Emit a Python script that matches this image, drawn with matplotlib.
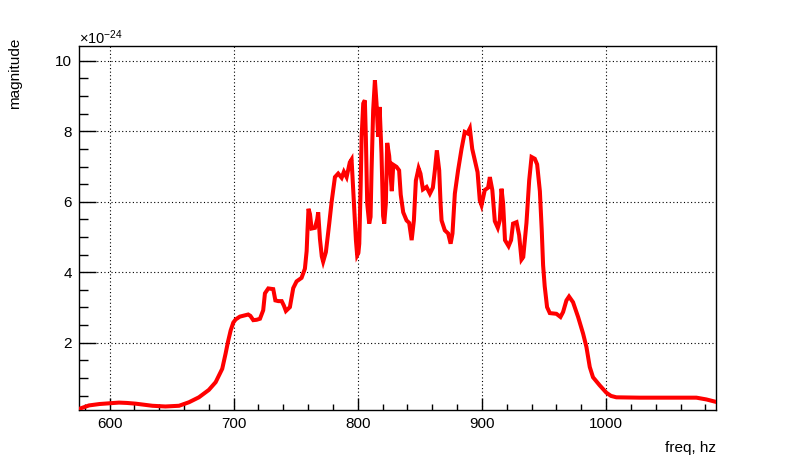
import matplotlib
matplotlib.use("Agg")
import matplotlib.pyplot as plt
from matplotlib.ticker import MultipleLocator

# --------------------------------------
# Data (magnitude in units of 1e-24)
# --------------------------------------
freq_hz = [
    575.4, 583.5, 592, 600, 607.6, 614, 621, 634.5, 645, 656,
    664, 672, 680, 685.5, 690.8, 693.5, 695.4, 697.6, 699.7, 701.6,
    705, 708.5, 711.7, 713.5, 715.8, 718.5, 721.2, 723.8, 725.2, 727.9,
    731.9, 733.6, 736, 738.7, 740.5, 742.1, 745.3, 748, 750.7, 754.7,
    757.4, 758.8, 759.5, 760.3, 761.5, 762.8, 765.5, 767.3, 768.1, 769.5,
    771, 772.1, 774.3, 777, 778.9, 781.6, 784.2, 787, 788.8, 791,
    793.6, 795, 796.9, 798.5, 799.5, 800.5, 801.2, 802.3, 803.1, 804.4,
    805.7, 806.5, 807.6, 809.2, 810.3, 811.1, 812.4, 813.8, 815.1, 816.4,
    817.6, 819.1, 820.4, 821.3, 822.6, 823.7, 825.3, 826.6, 827.4, 828.6,
    831.2, 833.3, 834.6, 836.6, 839.3, 841.4, 843.4, 845.2, 846.8, 849,
    850.5, 852.5, 855.4, 858.1, 860.5, 862.1, 863.7, 865.6, 866.7, 867.5,
    870.1, 872.8, 874.8, 876.3, 878.2, 880.8, 883.6, 886.2, 888.4, 890.3,
    892.2, 894.3, 896.5, 898.3, 899.7, 902.3, 905, 906.4, 908.4, 910.4,
    912.8, 914.4, 915.8, 917.1, 918.6, 921.5, 923.5, 925.1, 927.9, 930,
    931.9, 933.3, 935.9, 938.1, 940, 942.6, 944.5, 946.7, 948.2, 949.3,
    950.6, 952.5, 954.7, 960, 963.3, 965.4, 968.1, 970.2, 973.4, 977.5,
    981.5, 984.2, 986.9, 989.5, 994.9, 1000.3, 1004, 1008.3, 1027, 1054,
    1072.8, 1080.8, 1088.6,
]
magnitude = [
    0.12, 0.22, 0.26, 0.28, 0.30, 0.29, 0.27, 0.21, 0.19, 0.21,
    0.31, 0.45, 0.66, 0.88, 1.26, 1.69, 2.02, 2.35, 2.57, 2.66,
    2.74, 2.77, 2.80, 2.76, 2.64, 2.65, 2.68, 2.92, 3.40, 3.54,
    3.52, 3.20, 3.18, 3.18, 3.05, 2.90, 3.01, 3.55, 3.74, 3.84,
    4.10, 4.60, 5.20, 5.80, 5.65, 5.24, 5.26, 5.50, 5.70, 4.95,
    4.45, 4.30, 4.57, 5.38, 5.99, 6.70, 6.80, 6.68, 6.85, 6.70,
    7.12, 7.20, 5.95, 4.91, 4.48, 4.55, 4.81, 6.42, 7.84, 8.79,
    8.88, 7.84, 5.95, 5.38, 5.57, 6.89, 8.60, 9.45, 8.79, 7.84,
    8.69, 7.37, 5.60, 5.38, 5.95, 7.67, 7.30, 6.70, 6.30, 7.05,
    6.99, 6.89, 6.20, 5.70, 5.47, 5.40, 4.91, 5.47, 6.60, 6.95,
    6.80, 6.35, 6.42, 6.23, 6.40, 6.89, 7.46, 6.89, 5.95, 5.47,
    5.19, 5.10, 4.81, 5.10, 6.23, 6.89, 7.50, 7.98, 7.94, 8.08,
    7.50, 7.18, 6.84, 6.04, 5.90, 6.33, 6.40, 6.70, 6.33, 5.45,
    5.26, 5.47, 6.37, 5.95, 4.91, 4.74, 4.91, 5.38, 5.42, 5.05,
    4.36, 4.43, 5.40, 6.61, 7.27, 7.22, 7.06, 6.30, 5.20, 4.20,
    3.60, 3.01, 2.84, 2.82, 2.73, 2.87, 3.20, 3.31, 3.15, 2.73,
    2.26, 1.88, 1.31, 1.02, 0.79, 0.58, 0.49, 0.45, 0.44, 0.44,
    0.44, 0.39, 0.32,
]

x_ticks = [600, 700, 800, 900, 1000]
y_ticks = [2, 4, 6, 8, 10]

# --------------------------------------
# Style
# --------------------------------------
plt.rcParams["font.family"] = ["Liberation Sans", "DejaVu Sans"]
plt.rcParams["mathtext.fontset"] = "custom"
plt.rcParams["mathtext.rm"] = "Liberation Sans"
plt.rcParams["mathtext.it"] = "Liberation Sans"


def main():
    fig = plt.figure(figsize=(7.96, 4.72), dpi=100)
    ax = fig.add_axes([79 / 796, 62 / 472, 637 / 796, 364 / 472])

    ax.plot(freq_hz, magnitude, color="#ff0000", lw=2.9,
            solid_joinstyle="miter", zorder=3)

    ax.set_xlim(575.4, 1088.6)
    ax.set_ylim(0.09, 10.42)

    ax.set_xticks(x_ticks)
    ax.set_yticks(y_ticks)
    ax.xaxis.set_minor_locator(MultipleLocator(20))
    ax.yaxis.set_minor_locator(MultipleLocator(0.5))

    ax.tick_params(axis="x", which="major", direction="in", length=8.5,
                   width=1, labelsize=11, pad=5, top=False)
    ax.tick_params(axis="x", which="minor", direction="in", length=4.3,
                   width=1, top=False)
    ax.tick_params(axis="y", which="major", direction="in", length=12,
                   width=1, labelsize=11, pad=5, right=False)
    ax.tick_params(axis="y", which="minor", direction="in", length=6.5,
                   width=1, right=False)

    ax.grid(True, which="major", color="black", lw=0.8,
            linestyle=(0, (1, 2.2)), zorder=1)

    for s in ax.spines.values():
        s.set_linewidth(1)
        s.set_color("black")

    # ROOT-style titles at axis ends
    fig.text(716 / 796, 1 - 452 / 472, "freq, hz", ha="right",
             va="baseline", fontsize=11)
    fig.text(22 / 796, 1 - 38 / 472, "magnitude", ha="right", va="top",
             rotation=90, fontsize=11)
    fig.text(79 / 796, 1 - 44 / 472, r"$\times$10$^{-24}$", ha="left",
             va="baseline", fontsize=10.5)

    fig.savefig("out.png", dpi=100)


if __name__ == "__main__":
    main()
